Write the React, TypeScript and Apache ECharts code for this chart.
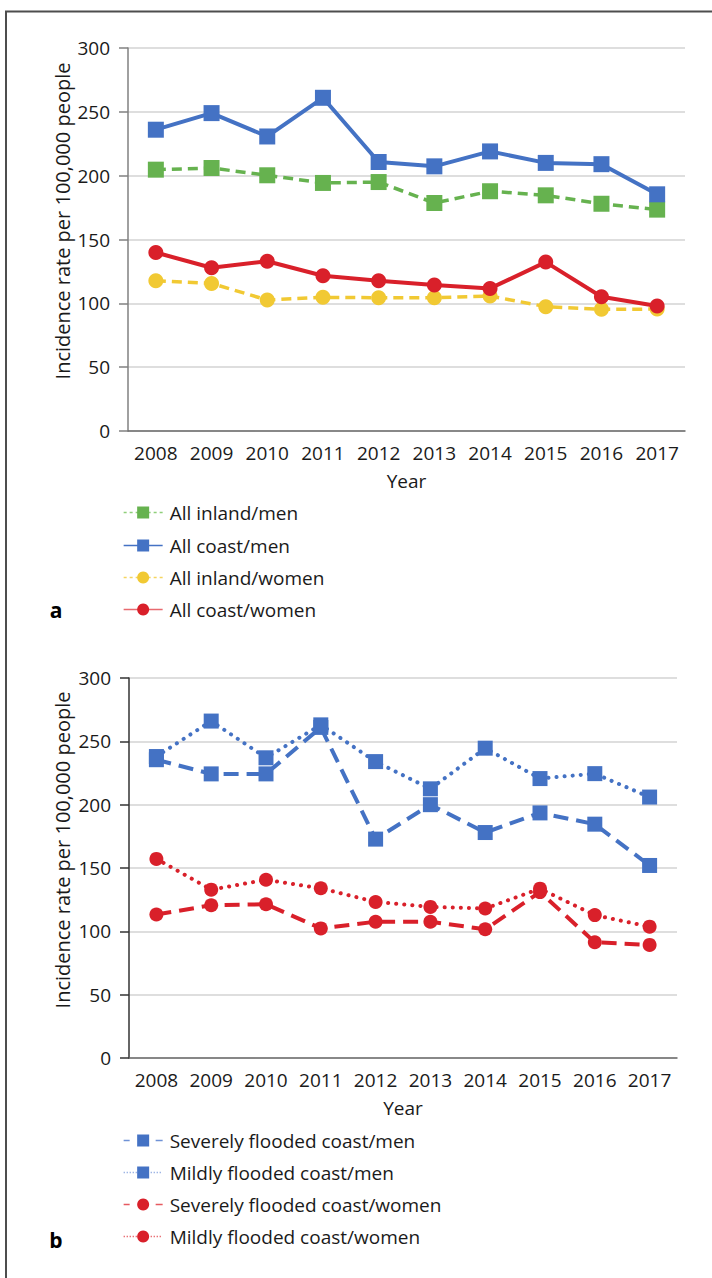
import React, { useEffect, useRef } from "react";
import * as echarts from "echarts";

const years = ["2008", "2009", "2010", "2011", "2012", "2013", "2014", "2015", "2016", "2017"];
const yTicks = [0, 50, 100, 150, 200, 250, 300];

// Panel a
const inlandMen = [204.7, 206, 200.3, 194.3, 195, 178.6, 187.8, 184.6, 178, 173.4];
const coastMen = [236, 249, 230.7, 261, 210.7, 207.3, 219, 210, 209, 185.4];
const inlandWomen = [117.7, 115.6, 102.6, 104.7, 104.4, 104.4, 105.7, 97.4, 95.3, 95.5];
const coastWomen = [139.8, 127.9, 133, 121.6, 117.7, 114.3, 111.7, 132.3, 105.2, 97.9];

// Panel b
const severeMen = [235.5, 224.3, 224.3, 261, 172.8, 200, 178, 193.5, 184.6, 152];
const mildMen = [238, 266, 237, 263, 234, 212.5, 244.6, 220.6, 224.5, 206];
const severeWomen = [113.3, 120.6, 121.4, 102.3, 107.6, 107.6, 101.6, 131, 91.4, 89.3];
const mildWomen = [157.2, 132.9, 140.7, 134, 123.2, 119.3, 118, 133.7, 112.8, 103.7];

const namesA = ["All inland/men", "All coast/men", "All inland/women", "All coast/women"];
const namesB = [
  "Severely flooded coast/men",
  "Mildly flooded coast/men",
  "Severely flooded coast/women",
  "Mildly flooded coast/women",
];

const FONT = "Open Sans";
const FS = 19;
const BLUE = "#4472c4";
const GREEN = "#66b24f";
const YELLOW = "#f1c933";
const RED = "#d9202a";

export default function App() {
  const ref = useRef<HTMLDivElement>(null);
  useEffect(() => {
    if (!ref.current) return;
    const chart = echarts.init(ref.current, undefined, { renderer: "svg" });

    const grids = [
      { left: 128, right: 27, top: 48, bottom: 847 },
      { left: 129, right: 35, top: 678, bottom: 220 },
    ];

    const xAxis = grids.map((_, i) => ({
      type: "category",
      gridIndex: i,
      data: years,
      boundaryGap: true,
      name: "Year",
      nameLocation: "middle",
      nameGap: 40,
      nameTextStyle: { fontFamily: FONT, fontSize: FS, color: "#1a1a1a" },
      axisLine: { lineStyle: { color: "#6b6b6b", width: 1.5 } },
      axisTick: { alignWithLabel: true, interval: 0, length: 8, lineStyle: { color: "#6b6b6b", width: 1.5 } },
      axisLabel: { fontFamily: FONT, fontSize: FS, color: "#1a1a1a", margin: 12, interval: 0 },
      splitLine: { show: false },
    }));

    const yAxis = grids.map((_, i) => ({
      type: "value",
      gridIndex: i,
      min: 0,
      max: 300,
      interval: 50,
      axisLine: { show: true, lineStyle: { color: i === 0 ? "#808080" : "#333333", width: 1.5 } },
      axisTick: { show: true, length: 9, lineStyle: { color: i === 0 ? "#808080" : "#333333", width: 1.5 } },
      axisLabel: {
        fontFamily: FONT,
        fontSize: FS,
        color: "#1a1a1a",
        margin: 18,
        formatter: (v: number) => (yTicks.includes(v) ? String(v) : ""),
      },
      splitLine: { lineStyle: { color: "#dedede", width: 2 } },
    }));

    const mk = (
      name: string,
      data: number[],
      color: string,
      idx: number,
      symbol: string,
      size: number,
      lineType: any,
      width: number,
      cap: string = "butt"
    ) => ({
      type: "line",
      name,
      data,
      xAxisIndex: idx,
      yAxisIndex: idx,
      symbol,
      symbolSize: size,
      showAllSymbol: true,
      color,
      itemStyle: { color },
      lineStyle: { color, width, type: lineType, cap },
      z: 2,
    });

    const series = [
      mk(namesA[0], inlandMen, GREEN, 0, "rect", 16, [10, 6], 3.5),
      mk(namesA[1], coastMen, BLUE, 0, "rect", 16, "solid", 4),
      mk(namesA[2], inlandWomen, YELLOW, 0, "circle", 15, [10, 6], 3.5),
      mk(namesA[3], coastWomen, RED, 0, "circle", 15, "solid", 4),
      mk(namesB[0], severeMen, BLUE, 1, "rect", 15, [15, 8], 4),
      mk(namesB[1], mildMen, BLUE, 1, "rect", 15, [0.1, 8], 4, "round"),
      mk(namesB[2], severeWomen, RED, 1, "circle", 14, [15, 8], 4),
      mk(namesB[3], mildWomen, RED, 1, "circle", 14, [0.1, 8], 4, "round"),
    ];

    const rowsA = [513, 546, 578, 610];
    const rowsB = [1141, 1173, 1205, 1237];
    const dashA: any[] = [[3, 3], "solid", [3, 3], "solid"];
    const dashB: any[] = [[6, 26, 7, 6, 26, 7], [1.2, 1.8], [6, 26, 7, 6, 26, 7], [1.2, 1.8]];
    const colA = ["#8fcf7a", BLUE, "#f5d560", "#e86a6f"];
    const colB = ["#6f92d6", "#8fa9e0", "#e65a60", "#e65a60"];

    const legends: any[] = [];
    namesA.forEach((n, i) =>
      legends.push({ name: n, top: rowsA[i] - 10, dash: dashA[i], col: colA[i] })
    );
    namesB.forEach((n, i) =>
      legends.push({ name: n, top: rowsB[i] - 10, dash: dashB[i], col: colB[i] })
    );

    const legend = legends.map((l) => ({
      data: [l.name],
      left: 123,
      top: l.top,
      padding: 0,
      itemWidth: 39,
      itemHeight: 15,
      itemGap: 0,
      selectedMode: false,
      lineStyle: { width: 1.3, type: l.dash, color: l.col, cap: "butt" },
      textStyle: { fontFamily: FONT, fontSize: FS, color: "#1a1a1a", padding: [0, 0, 0, 2] },
    }));

    const yName = "Incidence rate per 100,000 people";
    const YFS = 20;

    chart.setOption({
      animation: false,
      backgroundColor: "#ffffff",
      grid: grids,
      xAxis,
      yAxis,
      series,
      legend,
      graphic: [
        {
          type: "rect",
          shape: { x: 6, y: 11.5, width: 800, height: 1400 },
          style: { fill: "none", stroke: "#4d4d4d", lineWidth: 2 },
          silent: true,
        },
        {
          type: "text",
          x: 62,
          y: 221,
          rotation: Math.PI / 2,
          style: {
            text: yName,
            font: `${YFS}px "${FONT}"`,
            fill: "#1a1a1a",
            align: "center",
            verticalAlign: "middle",
          },
        },
        {
          type: "text",
          x: 62,
          y: 850,
          rotation: Math.PI / 2,
          style: {
            text: yName,
            font: `${YFS}px "${FONT}"`,
            fill: "#1a1a1a",
            align: "center",
            verticalAlign: "middle",
          },
        },
        {
          type: "text",
          x: 56,
          y: 610,
          style: {
            text: "a",
            font: `bold 21px "${FONT}"`,
            fill: "#000",
            align: "center",
            verticalAlign: "middle",
          },
        },
        {
          type: "text",
          x: 56,
          y: 1240,
          style: {
            text: "b",
            font: `bold 21px "${FONT}"`,
            fill: "#000",
            align: "center",
            verticalAlign: "middle",
          },
        },
      ],
    });
    return () => chart.dispose();
  }, []);
  return (
    <div
      ref={ref}
      style={{ position: "fixed", left: 0, top: 0, width: 712, height: 1278, background: "#fff" }}
    />
  );
}
